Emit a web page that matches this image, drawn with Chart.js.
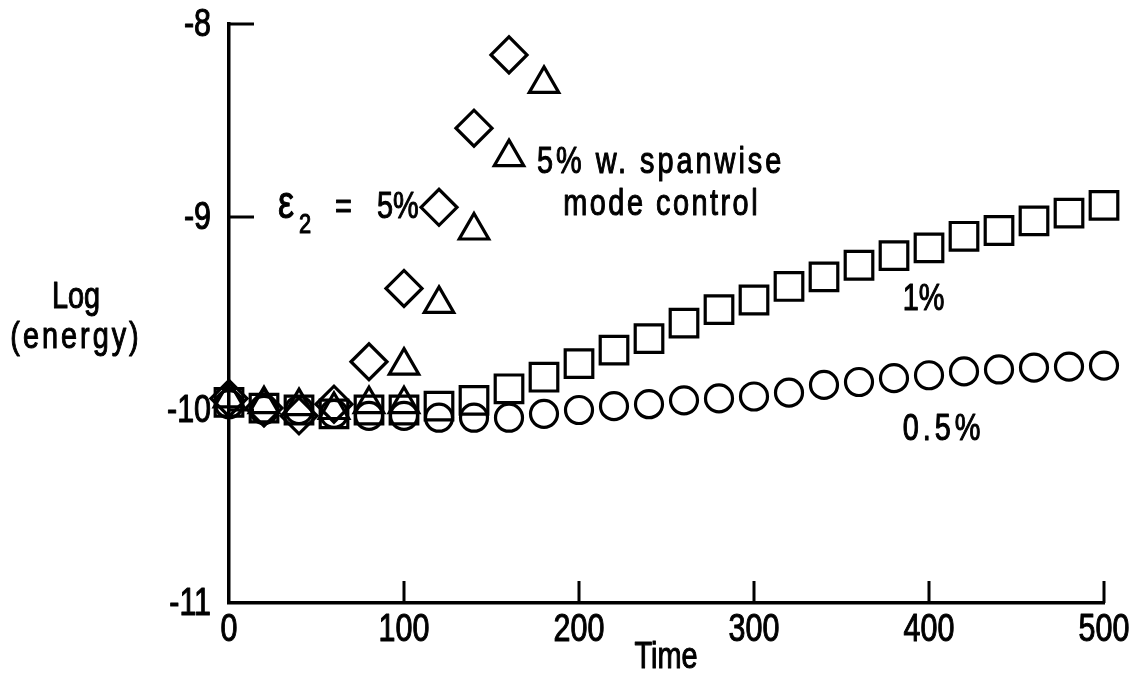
<!DOCTYPE html>
<html>
<head>
<meta charset="utf-8">
<script src="https://cdn.jsdelivr.net/npm/chart.js@4/dist/chart.umd.min.js"></script>
<style>
  html, body { margin: 0; padding: 0; background: #fff; }
  canvas { display: block; }
</style>
</head>
<body>
<canvas id="energy-chart" width="1139" height="685"></canvas>
<script>
// Valores (tempo x log da energia)
const times = [0, 20, 40, 60, 80, 100, 120, 140, 160, 180, 200, 220, 240, 260,
               280, 300, 320, 340, 360, 380, 400, 420, 440, 460, 480, 500];
const half = [-9.97, -10.0, -10.0, -10.02, -10.03, -10.03, -10.04, -10.04, -10.04, -10.02,
              -10.0, -9.98, -9.97, -9.95, -9.94, -9.93, -9.91, -9.87, -9.855, -9.835,
              -9.82, -9.80, -9.79, -9.78, -9.775, -9.77];
const one = [-9.96, -9.99, -10.0, -10.02, -10.0, -10.0, -9.98, -9.95, -9.89, -9.83,
             -9.76, -9.69, -9.63, -9.55, -9.48, -9.43, -9.36, -9.31, -9.25, -9.20,
             -9.16, -9.10, -9.07, -9.02, -8.98, -8.94];
const fiveTimes = [0, 20, 40, 60, 80, 100, 120, 140, 160];
const five = [-9.94, -9.99, -10.03, -9.97, -9.75, -9.37, -8.95, -8.54, -8.16];
const ctrlTimes = [0, 20, 40, 60, 80, 100, 100, 120, 140, 160, 180];
const ctrl = [-9.94, -9.97, -9.98, -10.0, -9.97, -9.97, -9.77, -9.45, -9.07, -8.69, -8.31];
const xTicks = [0, 100, 200, 300, 400, 500];
const yTicks = [-11, -10, -9, -8];

document.addEventListener('DOMContentLoaded', function() {
    const FONT = "'Liberation Sans', 'DejaVu Sans', sans-serif";
    const SX = 0.78; // letras estreitas como no original
    const toPoints = (xs, ys) => xs.map((x, i) => ({ x: x, y: ys[i] }));

    // texto condensado horizontalmente, com traço um pouco mais grosso
    function text(ctx, s, x, y, size, spacing, align, baseline) {
        ctx.save();
        ctx.translate(x, y);
        ctx.scale(SX, 1);
        ctx.font = size + 'px ' + FONT;
        ctx.letterSpacing = ((spacing || 0) / SX) + 'px';
        ctx.textAlign = align || 'left';
        ctx.textBaseline = baseline || 'alphabetic';
        ctx.lineWidth = 1.1;
        ctx.lineJoin = 'round';
        ctx.fillText(s, 0, 0);
        ctx.strokeText(s, 0, 0);
        ctx.restore();
    }

    // Marcas de escala para dentro, rótulos dos eixos e das curvas
    const decor = {
        id: 'decor',
        afterDraw(chart) {
            const ctx = chart.ctx;
            const xs = chart.scales.x, ys = chart.scales.y;
            const px = t => xs.getPixelForValue(t);
            const py = v => ys.getPixelForValue(v);
            const x0 = px(0), yb = py(-11);
            ctx.save();
            ctx.strokeStyle = '#000';
            ctx.fillStyle = '#000';
            ctx.lineWidth = 3;
            ctx.beginPath();
            xTicks.slice(1).forEach(t => {
                ctx.moveTo(px(t), yb);
                ctx.lineTo(px(t), yb - 22);
            });
            yTicks.slice(1).forEach(v => {
                ctx.moveTo(x0, py(v));
                ctx.lineTo(x0 + 25, py(v));
            });
            ctx.stroke();

            // números das escalas
            xTicks.forEach(t => text(ctx, String(t), px(t), yb + 38, 39, 0, 'center'));
            yTicks.forEach(v => text(ctx, String(v), x0 - 18, py(v) + 1, 39, 0, 'right', 'middle'));

            // títulos dos eixos
            text(ctx, 'Log', 76, 308, 37, 0, 'center');
            text(ctx, '(energy)', 76, 348, 37, 3, 'center');
            text(ctx, 'Time', 666, 668, 37, 0, 'center');

            // rótulos das curvas, ancorados nas escalas
            const ex = px(28), ey = py(-9.005);
            text(ctx, '\u03b5', ex, ey, 46, 0);
            text(ctx, '2', ex + 21, ey + 15, 28, 0);
            text(ctx, '=', ex + 57, ey, 37, 0);
            text(ctx, '5%', ex + 99, ey, 37, 0);
            text(ctx, '5% w. spanwise', px(176), py(-8.772), 37, 3);
            text(ctx, 'mode control', px(191), py(-8.99), 37, 2.5);
            text(ctx, '1%', px(385), py(-9.482), 37, 0);
            text(ctx, '0.5%', px(385), py(-10.155), 37, 4);
            ctx.restore();
        }
    };

    const base = {
        borderColor: '#000',
        backgroundColor: 'rgba(0,0,0,0)',
        pointBorderWidth: 3.2,
        showLine: false,
        clip: false
    };

    new Chart(document.getElementById('energy-chart'), {
        type: 'scatter',
        data: {
            datasets: [
                Object.assign({ label: '0.5%', data: toPoints(times, half), pointStyle: 'circle', pointRadius: 13.5 }, base),
                Object.assign({ label: '1%', data: toPoints(times, one), pointStyle: 'rect', pointRadius: 19.5 }, base),
                Object.assign({ label: '5%', data: toPoints(fiveTimes, five), pointStyle: 'rectRot', pointRadius: 18 }, base),
                Object.assign({ label: '5% w. spanwise mode control', data: toPoints(ctrlTimes, ctrl), pointStyle: 'triangle', pointRadius: 17 }, base)
            ]
        },
        options: {
            responsive: false,
            animation: false,
            events: [],
            layout: { padding: { left: 0, top: 24, right: 35, bottom: 0 } },
            plugins: {
                legend: { display: false },
                tooltip: { enabled: false }
            },
            scales: {
                x: {
                    type: 'linear',
                    min: 0,
                    max: 500,
                    afterFit: s => { s.height = 82; },
                    afterBuildTicks: s => { s.ticks = xTicks.map(v => ({ value: v })); },
                    grid: { display: false, drawTicks: false },
                    border: { display: true, color: '#000', width: 3.5 },
                    ticks: { display: false }
                },
                y: {
                    type: 'linear',
                    min: -11,
                    max: -8,
                    afterFit: s => { s.width = 229; },
                    afterBuildTicks: s => { s.ticks = yTicks.map(v => ({ value: v })); },
                    grid: { display: false, drawTicks: false },
                    border: { display: true, color: '#000', width: 3.5 },
                    ticks: { display: false }
                }
            }
        },
        plugins: [decor]
    });
});
</script>
</body>
</html>
